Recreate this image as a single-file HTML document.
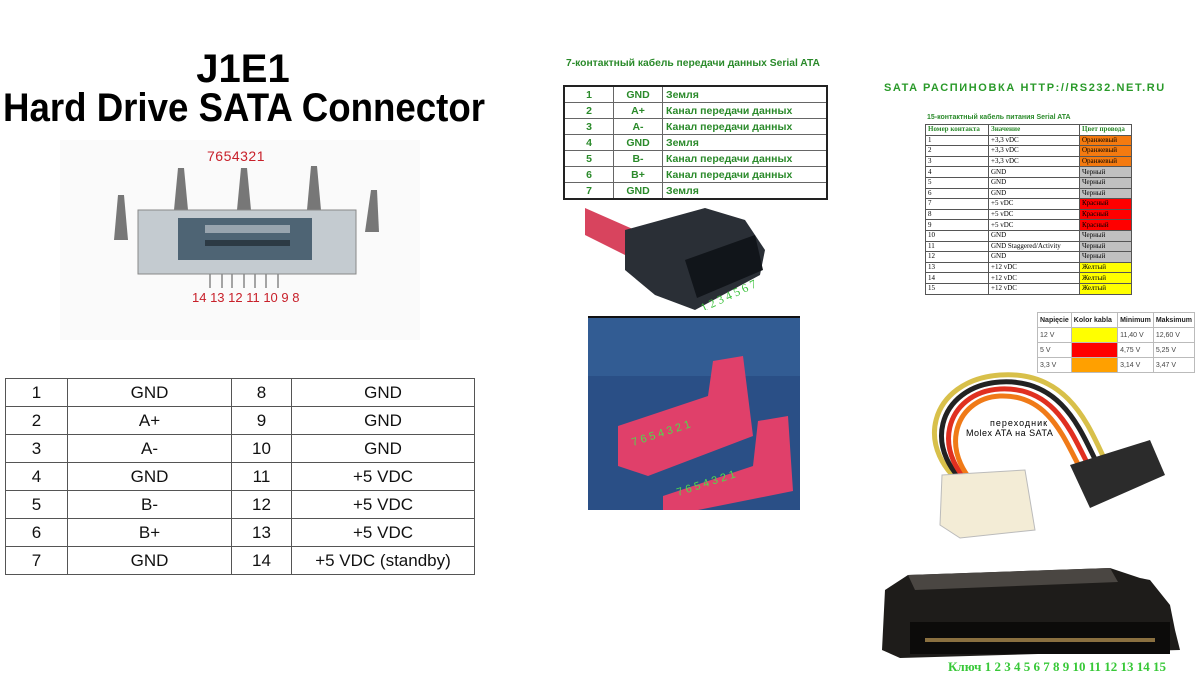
<!DOCTYPE html>
<html><head><meta charset="utf-8"><style>
body{margin:0;width:1200px;height:684px;background:#fff;position:relative;overflow:hidden;font-family:"Liberation Sans",sans-serif}
.a{position:absolute}
table{border-collapse:collapse}
#lt{position:absolute;left:5px;top:378px;width:470px}
#lt td{border:1px solid #555;height:27px;padding:0;text-align:center;font-size:17px;color:#111}
#mt{position:absolute;left:563px;top:85px;width:265px;border:2px solid #222}
#mt td{border:1px solid #666;height:15px;padding:0 3px;font:bold 10.5px "Liberation Sans","DejaVu Sans",sans-serif;color:#2a8a2a}
#pt{position:absolute;left:925px;top:124px;width:207px}
#pt td{border:1px solid #555;height:9.6px;padding:0 2px;font:7px "Liberation Serif","DejaVu Serif",serif;line-height:9px;color:#000}
#pt tr:first-child td{font-weight:bold;color:#2a8a2a}
#st{position:absolute;left:1037px;top:312px;width:158px}
#st td{border:1px solid #bbb;height:14px;padding:0 2px;font:7px "Liberation Sans",sans-serif;color:#444}
#st tr:first-child td{font-weight:bold;color:#222}
.o{background:#f47a10}.k{background:#c0c0c0}.r{background:#f00}.y{background:#ffff00}
</style></head><body>
<svg class="a" style="left:0;top:0" width="500" height="140">
<text x="243" y="82" font-family="Liberation Sans" font-weight="bold" font-size="40" text-anchor="middle">J1E1</text>
<text x="3" y="121" font-family="Liberation Sans" font-weight="bold" font-size="40" textLength="482" lengthAdjust="spacingAndGlyphs">Hard Drive SATA Connector</text>
</svg>
<svg class="a" style="left:60px;top:140px" width="360" height="200">
<rect x="0" y="0" width="360" height="200" fill="#fafafa"/>
<text x="147" y="21" fill="#c8202a" font-size="14" font-family="Liberation Sans" letter-spacing="0.5">7654321</text>
<polygon points="58,55 64,55 68,100 54,100" fill="#777"/>
<polygon points="118,28 124,28 128,70 114,70" fill="#777"/>
<polygon points="181,28 187,28 191,70 177,70" fill="#777"/>
<polygon points="251,26 257,26 261,70 247,70" fill="#777"/>
<polygon points="311,50 317,50 319,92 305,92" fill="#777"/>
<rect x="78" y="70" width="218" height="64" fill="#c4cbd0" stroke="#888"/>
<rect x="118" y="78" width="134" height="42" fill="#4e6474"/>
<rect x="145" y="85" width="85" height="8" fill="#98a4ae"/>
<rect x="145" y="100" width="85" height="6" fill="#2c3a44"/>
<g stroke="#888" stroke-width="1.5"><line x1="150" y1="134" x2="150" y2="148"/><line x1="162" y1="134" x2="162" y2="148"/><line x1="172" y1="134" x2="172" y2="148"/><line x1="184" y1="134" x2="184" y2="148"/><line x1="195" y1="134" x2="195" y2="148"/><line x1="206" y1="134" x2="206" y2="148"/><line x1="218" y1="134" x2="218" y2="148"/></g>
<text x="132" y="162" fill="#c8202a" font-size="13" font-family="Liberation Sans">14 13 12 11 10 9 8</text>
</svg>
<table id="lt">
<tr><td style="width:61px">1</td><td style="width:163px">GND</td><td style="width:59px">8</td><td>GND</td></tr>
<tr><td>2</td><td>A+</td><td>9</td><td>GND</td></tr>
<tr><td>3</td><td>A-</td><td>10</td><td>GND</td></tr>
<tr><td>4</td><td>GND</td><td>11</td><td>+5 VDC</td></tr>
<tr><td>5</td><td>B-</td><td>12</td><td>+5 VDC</td></tr>
<tr><td>6</td><td>B+</td><td>13</td><td>+5 VDC</td></tr>
<tr><td>7</td><td>GND</td><td>14</td><td>+5 VDC (standby)</td></tr>
</table>
<div class="a" style="left:566px;top:58px;font:bold 10.3px 'Liberation Sans','DejaVu Sans',sans-serif;color:#2a8a2a">7-контактный кабель передачи данных Serial ATA</div>
<table id="mt">
<tr><td style="width:42px;text-align:center">1</td><td style="width:42px;text-align:center">GND</td><td>Земля</td></tr>
<tr><td style="text-align:center">2</td><td style="text-align:center">A+</td><td>Канал передачи данных</td></tr>
<tr><td style="text-align:center">3</td><td style="text-align:center">A-</td><td>Канал передачи данных</td></tr>
<tr><td style="text-align:center">4</td><td style="text-align:center">GND</td><td>Земля</td></tr>
<tr><td style="text-align:center">5</td><td style="text-align:center">B-</td><td>Канал передачи данных</td></tr>
<tr><td style="text-align:center">6</td><td style="text-align:center">B+</td><td>Канал передачи данных</td></tr>
<tr><td style="text-align:center">7</td><td style="text-align:center">GND</td><td>Земля</td></tr>
</table>
<svg class="a" style="left:585px;top:200px" width="215" height="110">
<polygon points="0,8 50,30 50,60 0,35" fill="#d8445e"/>
<polygon points="40,30 120,8 160,20 180,50 175,75 110,110 70,95 40,70" fill="#2a2f36"/>
<polygon points="100,60 170,35 178,70 112,98" fill="#11151a"/>
<text x="118" y="112" fill="#3cc23c" font-size="12" transform="rotate(-25 118 112)" font-family="Liberation Serif">1 2 3 4 5 6 7</text>
</svg>
<svg class="a" style="left:588px;top:316px" width="212" height="194">
<rect x="0" y="0" width="212" height="194" fill="#2a4f86"/>
<rect x="0" y="0" width="212" height="60" fill="#3a6aa0" opacity="0.5"/>
<line x1="0" y1="1" x2="212" y2="1" stroke="#111" stroke-width="2"/>
<polygon points="30,110 120,80 125,45 155,40 165,120 60,160 30,150" fill="#e0406a"/>
<polygon points="75,180 165,150 170,105 200,100 205,175 110,194 75,194" fill="#e0406a"/>
<text x="45" y="130" fill="#4ddc4d" font-size="11" transform="rotate(-18 45 130)">7 6 5 4 3 2 1</text>
<text x="90" y="180" fill="#4ddc4d" font-size="11" transform="rotate(-18 90 180)">7 6 5 4 3 2 1</text>
</svg>
<div class="a" style="left:884px;top:82px;font:bold 11px 'Liberation Sans','DejaVu Sans',sans-serif;color:#2a9a2a;letter-spacing:1.6px">SATA РАСПИНОВКА HTTP://RS232.NET.RU</div>
<div class="a" style="left:927px;top:114px;font:bold 7px 'Liberation Sans','DejaVu Sans',sans-serif;color:#2a8a2a">15-контактный кабель питания Serial ATA</div>
<table id="pt">
<tr><td style="width:58px">Номер контакта</td><td style="width:86px">Значение</td><td>Цвет провода</td></tr>
<tr><td>1</td><td>+3,3 vDC</td><td class="o">Оранжевый</td></tr>
<tr><td>2</td><td>+3,3 vDC</td><td class="o">Оранжевый</td></tr>
<tr><td>3</td><td>+3,3 vDC</td><td class="o">Оранжевый</td></tr>
<tr><td>4</td><td>GND</td><td class="k">Черный</td></tr>
<tr><td>5</td><td>GND</td><td class="k">Черный</td></tr>
<tr><td>6</td><td>GND</td><td class="k">Черный</td></tr>
<tr><td>7</td><td>+5 vDC</td><td class="r">Красный</td></tr>
<tr><td>8</td><td>+5 vDC</td><td class="r">Красный</td></tr>
<tr><td>9</td><td>+5 vDC</td><td class="r">Красный</td></tr>
<tr><td>10</td><td>GND</td><td class="k">Черный</td></tr>
<tr><td>11</td><td>GND Staggered/Activity</td><td class="k">Черный</td></tr>
<tr><td>12</td><td>GND</td><td class="k">Черный</td></tr>
<tr><td>13</td><td>+12 vDC</td><td class="y">Желтый</td></tr>
<tr><td>14</td><td>+12 vDC</td><td class="y">Желтый</td></tr>
<tr><td>15</td><td>+12 vDC</td><td class="y">Желтый</td></tr>
</table>
<svg class="a" style="left:890px;top:340px" width="300" height="210">
<g fill="none" stroke-width="5">
<path d="M80,150 C20,110 40,40 110,35 C180,30 200,90 215,120" stroke="#d8c04a"/>
<path d="M86,152 C28,112 48,46 110,42 C174,38 192,95 208,125" stroke="#222"/>
<path d="M92,154 C36,114 56,52 110,49 C168,46 184,100 201,130" stroke="#e03020"/>
<path d="M98,156 C44,116 64,58 110,56 C162,54 176,105 194,135" stroke="#f07a18"/>
</g>
<text x="100" y="86" font-size="9" font-family="Liberation Sans" letter-spacing="1">переходник</text>
<text x="76" y="96" font-size="9" font-family="Liberation Sans" letter-spacing="0.5">Molex ATA на SATA</text>
<polygon points="52,135 135,130 145,190 70,198 50,185" fill="#f3ecd6" stroke="#bbb"/>
<polygon points="180,125 260,100 275,135 200,168" fill="#2b2b2b"/>
</svg>
<table id="st">
<tr><td>Napięcie</td><td style="width:42px">Kolor kabla</td><td>Minimum</td><td>Maksimum</td></tr>
<tr><td>12 V</td><td class="y"></td><td>11,40 V</td><td>12,60 V</td></tr>
<tr><td>5 V</td><td class="r"></td><td>4,75 V</td><td>5,25 V</td></tr>
<tr><td>3,3 V</td><td style="background:#ffa000"></td><td>3,14 V</td><td>3,47 V</td></tr>
</table>
<svg class="a" style="left:870px;top:560px" width="330" height="124">
<polygon points="38,15 240,8 270,18 280,20 300,45 305,70 310,90 30,98 12,90 15,30" fill="#1e1c1a"/>
<polygon points="38,15 240,8 248,22 45,30" fill="#4a4642"/>
<rect x="40" y="62" width="260" height="32" fill="#0c0b0a"/>
<rect x="55" y="78" width="230" height="4" fill="#8a7040"/>
<text x="78" y="111" fill="#38c838" font-size="13" font-family="Liberation Serif" font-weight="bold">Ключ 1 2 3 4 5 6 7 8 9 10 11 12 13 14 15</text>
</svg>
</body></html>
